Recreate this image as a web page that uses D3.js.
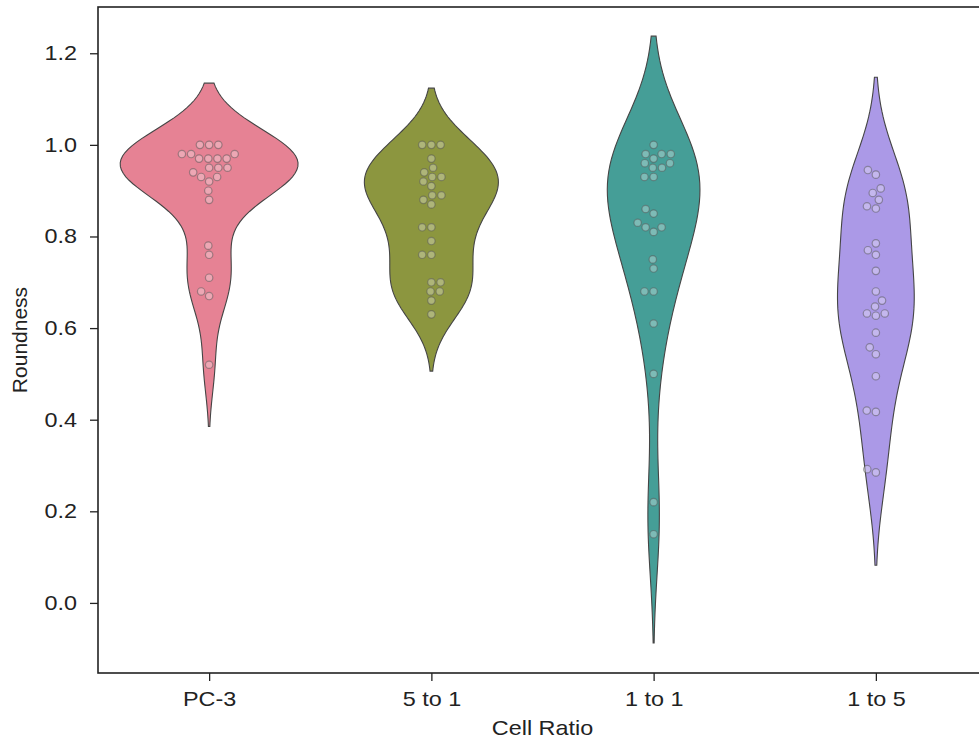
<!DOCTYPE html>
<html>
<head>
<meta charset="utf-8">
<script src="https://cdn.jsdelivr.net/npm/d3@7"></script>
<style>
  html, body { margin: 0; padding: 0; background: #fff; }
  svg { display: block; font-family: "Liberation Sans", Arial, sans-serif; }
</style>
</head>
<body>
<svg id="chart" width="979" height="742"></svg>
<script>
// Roundness measurements per cell-ratio group
const categories = ["PC-3", "5 to 1", "1 to 1", "1 to 5"];
const pc3 = [1.00, 1.00, 1.00, 0.98, 0.98, 0.98, 0.97, 0.97, 0.97, 0.97,
             0.95, 0.95, 0.95, 0.94, 0.93, 0.93, 0.92, 0.90, 0.88, 0.78,
             0.76, 0.71, 0.68, 0.67, 0.52];
const fiveToOne = [1.00, 1.00, 1.00, 0.97, 0.95, 0.94, 0.93, 0.93, 0.92, 0.91,
                   0.89, 0.89, 0.88, 0.87, 0.82, 0.82, 0.79, 0.76, 0.76, 0.70,
                   0.70, 0.68, 0.68, 0.66, 0.63];
const oneToOne = [1.00, 0.98, 0.98, 0.98, 0.97, 0.96, 0.96, 0.95, 0.95, 0.93,
                  0.93, 0.86, 0.85, 0.83, 0.82, 0.82, 0.81, 0.75, 0.73, 0.68,
                  0.68, 0.61, 0.50, 0.22, 0.15];
const oneToFive = [0.945, 0.935, 0.905, 0.895, 0.88, 0.866, 0.861, 0.785, 0.77, 0.76,
                   0.725, 0.68, 0.66, 0.647, 0.632, 0.632, 0.627, 0.59, 0.558, 0.543,
                   0.495, 0.42, 0.417, 0.292, 0.285];
const yTicks = [0.0, 0.2, 0.4, 0.6, 0.8, 1.0, 1.2];
const palette = ["#e68294", "#8c963f", "#459e97", "#ab99e7"];

const groups = [pc3, fiveToOne, oneToOne, oneToFive];

const svg = d3.select("#chart");
const plotLeft = 98, plotRight = 987, plotTop = 7, plotBottom = 673;
const textStretch = 1.17;

const x = d3.scalePoint().domain(categories).range([plotLeft, plotRight]).padding(0.5);
const step = x.step();
const y = d3.scaleLinear().domain([-0.153, 1.301]).range([plotBottom, plotTop]);

// Gaussian KDE, Scott's rule, support extended by two bandwidths
function kde(values, gridsize = 100, cut = 2) {
  const n = values.length;
  const sd = d3.deviation(values);
  const bw = sd * Math.pow(n, -0.2);
  const lo = d3.min(values) - cut * bw, hi = d3.max(values) + cut * bw;
  const pts = [];
  for (let i = 0; i < gridsize; i++) {
    const v = lo + (hi - lo) * i / (gridsize - 1);
    let s = 0;
    for (const d of values) {
      const z = (v - d) / bw;
      s += Math.exp(-0.5 * z * z);
    }
    pts.push({ v, dens: s / (n * bw * Math.sqrt(2 * Math.PI)) });
  }
  return pts;
}

const densities = groups.map(g => kde(g));
const maxDens = d3.max(densities, ds => d3.max(ds, d => d.dens));
const halfWidth = 0.4 * step;

const plot = svg.append("g");

// violins
densities.forEach((ds, i) => {
  const cx = x(categories[i]);
  const area = d3.area()
    .y(d => y(d.v))
    .x0(d => cx - d.dens / maxDens * halfWidth)
    .x1(d => cx + d.dens / maxDens * halfWidth)
    .curve(d3.curveLinear);
  plot.append("path")
    .datum(ds)
    .attr("d", area)
    .attr("fill", palette[i])
    .attr("stroke", "#454545")
    .attr("stroke-width", 1.1);
});

// swarm layout: place each point nearest the centre without overlap
function swarm(values, cx, diameter) {
  const sorted = values.map(v => ({ v, py: y(v) })).sort((a, b) => a.v - b.v);
  const placed = [];
  for (const p of sorted) {
    const neighbors = placed.filter(q => Math.abs(q.py - p.py) < diameter);
    const cands = [0];
    for (const q of neighbors) {
      const dy = q.py - p.py;
      const dx = Math.sqrt(diameter * diameter - dy * dy);
      cands.push(q.off - dx, q.off + dx);
    }
    cands.sort((a, b) => Math.abs(a) - Math.abs(b));
    let chosen = 0;
    for (const c of cands) {
      const ok = neighbors.every(q => {
        const dx = q.off - c, dy = q.py - p.py;
        return dx * dx + dy * dy >= diameter * diameter - 0.01;
      });
      if (ok) { chosen = c; break; }
    }
    p.off = chosen;
    p.px = cx + chosen;
    placed.push(p);
  }
  return placed;
}

groups.forEach((g, i) => {
  const pts = swarm(g, x(categories[i]), 9.2);
  plot.selectAll(null)
    .data(pts)
    .enter()
    .append("circle")
    .attr("cx", d => d.px)
    .attr("cy", d => d.py)
    .attr("r", 3.7)
    .attr("fill", "#ffffff")
    .attr("fill-opacity", 0.3)
    .attr("stroke", "#555555")
    .attr("stroke-opacity", 0.5)
    .attr("stroke-width", 1.2);
});

// axes
const yAxis = svg.append("g")
  .attr("transform", `translate(${plotLeft},0)`)
  .call(d3.axisLeft(y).tickValues(yTicks).tickFormat(d3.format(".1f")).tickSize(8).tickSizeOuter(0).tickPadding(10));
const xAxis = svg.append("g")
  .attr("transform", `translate(0,${plotBottom})`)
  .call(d3.axisBottom(x).tickSize(8).tickSizeOuter(0).tickPadding(11));

[yAxis, xAxis].forEach(a => {
  a.select(".domain").remove();
  a.selectAll(".tick line").attr("stroke", "#222").attr("stroke-width", 1.3);
  a.selectAll(".tick text")
    .attr("fill", "#222")
    .style("font-size", "20px")
    .style("font-family", '"Liberation Sans", Arial, sans-serif');
});
yAxis.selectAll(".tick text").attr("transform", `scale(${textStretch},1)`);
xAxis.selectAll(".tick text").attr("transform", `scale(${textStretch},1)`);

// frame
svg.append("rect")
  .attr("x", plotLeft).attr("y", plotTop)
  .attr("width", plotRight - plotLeft).attr("height", plotBottom - plotTop)
  .attr("fill", "none")
  .attr("stroke", "#222")
  .attr("stroke-width", 1.6);

// axis titles
svg.append("text")
  .attr("transform", `translate(${(plotLeft + plotRight) / 2},735) scale(${textStretch},1)`)
  .attr("text-anchor", "middle")
  .attr("fill", "#222")
  .style("font-size", "20px")
  .text("Cell Ratio");

svg.append("text")
  .attr("transform", `translate(27,${(plotTop + plotBottom) / 2}) rotate(-90)`)
  .attr("text-anchor", "middle")
  .attr("fill", "#222")
  .style("font-size", "21px")
  .text("Roundness");
</script>
</body>
</html>
